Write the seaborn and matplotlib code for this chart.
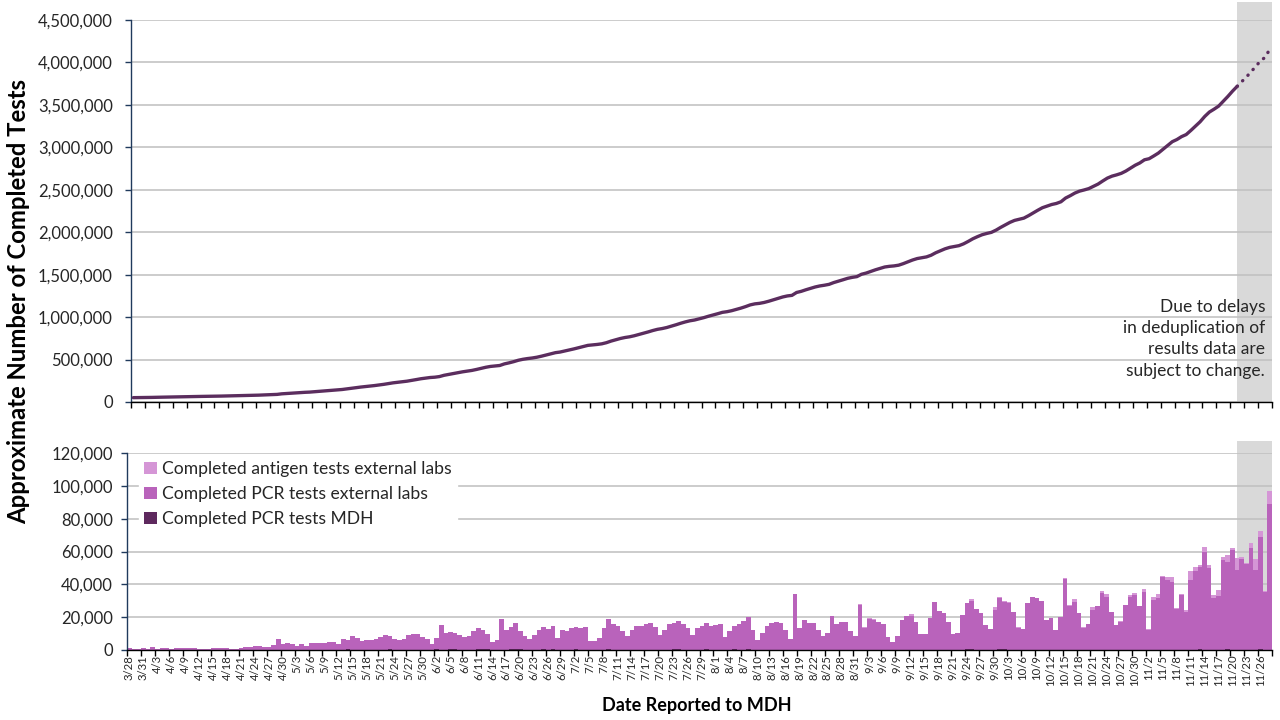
import numpy as np
import pandas as pd
import matplotlib
matplotlib.use("Agg")
import matplotlib.pyplot as plt
import matplotlib.transforms as mtransforms
from matplotlib.patches import Rectangle, Patch
from matplotlib.ticker import FuncFormatter, FixedLocator
import seaborn as sns

# ---------------- data ----------------
start_date = "2020-03-28"
end_date = "2020-11-28"

# daily completed tests (bar total height)
total_tests = [
    1200, 600, 600, 1200, 600, 1800, 600, 1200, 1200, 600,
    1200, 1200, 1200, 1200, 1200, 600, 600, 600, 1200, 1200,
    1200, 1200, 600, 600, 1200, 1800, 1800, 2400, 2400, 1800,
    1800, 3000, 6700, 3700, 4300, 3700, 2400, 3700, 2400, 4300,
    4300, 4300, 4300, 4900, 4900, 3700, 6700, 6100, 8500, 7300,
    5500, 6100, 6100, 6700, 7900, 9100, 8500, 6700, 6100, 6700,
    9100, 9800, 9800, 7900, 6700, 3700, 7300, 15200, 10400, 11000,
    10400, 9100, 7900, 8500, 11600, 13400, 12200, 9800, 4900, 6100,
    18900, 12200, 14000, 16500, 11600, 8500, 6700, 9100, 12200, 14000,
    12800, 14600, 7300, 12200, 11600, 13400, 14000, 13400, 14000, 5500,
    5500, 7300, 13400, 18900, 15900, 14600, 11600, 8500, 12200, 14600,
    14600, 15900, 16500, 14000, 9100, 12200, 15900, 16500, 17700, 15900,
    13400, 9100, 13400, 14600, 16500, 14600, 15200, 15900, 7900, 11600,
    14600, 15900, 17700, 20100, 12200, 6100, 10400, 14600, 16500, 17100,
    16500, 12200, 6700, 34100, 13400, 18300, 16500, 16500, 12200, 8500,
    10400, 20700, 15900, 17100, 17100, 11600, 8500, 28000, 14000, 19500,
    18900, 17100, 15900, 7900, 4900, 8500, 18300, 20700, 22000, 17100,
    9800, 9800, 19500, 29300, 23800, 22500, 17100, 9800, 10400, 21300,
    28700, 31100, 25000, 22600, 15200, 12800, 26200, 32300, 29900, 29300,
    23200, 14000, 12800, 28700, 32300, 31700, 29900, 18300, 19500, 12200,
    20100, 43900, 27600, 31100, 22600, 14000, 15900, 26400, 27000, 36000,
    34100, 23200, 15200, 17700, 27400, 33500, 34700, 26800, 37200, 12800,
    32300, 34100, 45100, 44500, 44500, 25600, 34100, 24400, 48200, 50600,
    51800, 62800, 51800, 33500, 36600, 56700, 58000, 62200, 56100, 56700,
    53000, 65200, 55500, 72600, 36000, 97000,
]

# antigen tests, external labs (light top segment)
antigen_ext = [0] * 157 + [
    400, 600, 600, 600, 0, 0, 0, 0, 0, 0,
    0, 1200, 0, 0, 0, 0, 0, 0, 0, 0,
    0, 0, 0, 0, 1200, 0, 0, 0, 0, 1800,
    600, 600, 600, 0, 600, 0, 0, 0, 0, 0,
    0, 0, 0, 0, 400, 600, 1800, 0, 600, 0,
    2000, 0, 1200, 1800, 0, 0, 600, 0, 1200, 1200,
    0, 1800, 600, 1800, 2400, 500, 1800, 3000, 400, 600,
    1200, 5500, 2400, 1200, 3000, 1800, 1800, 3700, 1800, 4300,
    1200, 7300, 1200, 600, 3000, 6700, 3700, 600, 7900,
]

# PCR tests MDH (dark bottom segment)
mdh_days = [47, 56, 66, 69, 70, 75, 76, 77, 82, 83, 84, 89, 91, 96, 103,
            117, 118, 124, 130, 133, 180, 181, 187, 188, 230, 236, 243]
mdh_value = 700
tests_before_start = 50000

# shading / projection start (category index of 11/21)
shade_start = 238

# ---------------- derived frame ----------------
dates = pd.date_range(start_date, end_date, freq="D")
labels = [f"{d.month}/{d.day}" for d in dates]
n = len(labels)
total = np.array(total_tests, dtype=float)
antigen = np.array(antigen_ext, dtype=float)
mdh = np.zeros(n)
mdh[mdh_days] = mdh_value
pcr_ext = total - antigen - mdh
cumulative = tests_before_start + np.cumsum(total)
pos = np.arange(n)

df = pd.DataFrame({"date": labels, "pos": pos, "total": total,
                   "pcr_mdh": pcr_ext + mdh, "mdh": mdh, "cum": cumulative})

# ---------------- style ----------------
sns.set_theme(style="white")
plt.rcParams["font.family"] = ["Lato", "DejaVu Sans"]

c_line = "#5B2D5E"
c_antigen = "#D596D6"
c_pcr = "#B963BB"
c_mdh = "#5E295E"
c_grid = "#BFBFBF"
c_shade = "#D9D9D9"
c_text = "#262626"
c_yaxis = "#203A5C"

fig = plt.figure(figsize=(12.8, 7.2), dpi=100)
ax1 = fig.add_axes([131 / 1280, 1 - 402 / 720, (1272 - 131) / 1280, (402 - 20) / 720])
ax2 = fig.add_axes([127 / 1280, 1 - 650 / 720, (1272 - 127) / 1280, (650 - 453) / 720])

# ---------------- top: cumulative line ----------------
solid = df[df["pos"] <= shade_start]
proj = df[df["pos"] >= shade_start]
sns.lineplot(data=solid, x="pos", y="cum", ax=ax1, color=c_line, lw=2.4,
             estimator=None, zorder=3, solid_capstyle="round")
sns.lineplot(data=proj, x="pos", y="cum", ax=ax1, color=c_line, lw=2.4,
             estimator=None, zorder=3, linestyle=(0, (0.1, 2.2)),
             dash_capstyle="round")

# ---------------- bottom: stacked bars (layered) ----------------
sns.barplot(data=df, x="date", y="total", ax=ax2, color=c_antigen, width=1.0,
            saturation=1, linewidth=0, order=labels, zorder=2)
sns.barplot(data=df, x="date", y="pcr_mdh", ax=ax2, color=c_pcr, width=1.0,
            saturation=1, linewidth=0, order=labels, zorder=2)
sns.barplot(data=df, x="date", y="mdh", ax=ax2, color=c_mdh, width=1.0,
            saturation=1, linewidth=0, order=labels, zorder=2)

fmt = FuncFormatter(lambda v, p: f"{int(round(v)):,}")

for ax, ymax, ystep, over, ypad in ((ax1, 4.5e6, 5e5, 1.047, 8.5),
                                    (ax2, 120000, 20000, 1.061, 5.5)):
    ax.set_xlim(-0.5, n - 0.5)
    ax.set_ylim(0, ymax)
    ax.set_yticks(np.arange(0, ymax + 1, ystep))
    ax.yaxis.set_major_formatter(fmt)
    ax.set_xlabel("")
    ax.set_ylabel("")
    ax.set_axisbelow(True)
    ax.grid(axis="y", color=c_grid, lw=1.1, zorder=0.5)
    ax.grid(axis="x", visible=False)
    for s in ("top", "right"):
        ax.spines[s].set_visible(False)
    ax.spines["left"].set_color(c_yaxis)
    ax.spines["left"].set_linewidth(1.0)
    ax.spines["bottom"].set_color("#000000")
    ax.spines["bottom"].set_linewidth(1.0)
    ax.tick_params(axis="y", which="both", direction="out", length=4.5, width=1,
                   color=c_yaxis, labelsize=12, labelcolor=c_text, pad=ypad, left=True)
    ax.xaxis.set_minor_locator(FixedLocator(np.arange(-0.5, n, 3)))
    ax.tick_params(axis="x", which="minor", direction="out", length=4.5, width=1,
                   color="#000000", bottom=True)
    trans = mtransforms.blended_transform_factory(ax.transData, ax.transAxes)
    ax.add_patch(Rectangle((shade_start, 0), n - 0.5 - shade_start, over,
                           transform=trans, facecolor=c_shade, edgecolor="none",
                           clip_on=False, zorder=0.2))

ax1.set_xticks([])
ax1.xaxis.set_minor_locator(FixedLocator(np.arange(-0.5, n, 3)))
ax1.tick_params(axis="x", which="minor", direction="out", length=4.5, width=1,
                color="#000000", bottom=True)

ax2.set_xticks(pos[::3])
ax2.set_xticklabels(labels[::3], rotation=90, fontsize=8.2, color=c_text)
ax2.tick_params(axis="x", which="major", length=0, pad=3.5)

# annotation in shaded area
fig.text(1265 / 1280, 1 - 299 / 720,
         "Due to delays\nin deduplication of\nresults data are\nsubject to change.",
         ha="right", va="top", fontsize=12.5, color=c_text, linespacing=1.4)

# legend
handles = [Patch(facecolor=c_antigen, edgecolor="none"),
           Patch(facecolor=c_pcr, edgecolor="none"),
           Patch(facecolor=c_mdh, edgecolor="none")]
names = ["Completed antigen tests external labs",
         "Completed PCR tests external labs",
         "Completed PCR tests MDH"]
leg = ax2.legend(handles, names, loc="upper left", bbox_to_anchor=(0.008, 1.0),
                 fontsize=12.6, frameon=True, fancybox=False, framealpha=1,
                 edgecolor="white", facecolor="white", handlelength=0.72,
                 handleheight=0.72, handletextpad=0.3, labelspacing=0.52,
                 borderpad=0.3, borderaxespad=0.15)
for t in leg.get_texts():
    t.set_color(c_text)
leg.set_zorder(5)

# axis titles
fig.text(19 / 1280, 1 - 302 / 720, "Approximate Number of Completed Tests",
         rotation=90, ha="center", va="center", fontsize=17.2, fontweight="bold",
         color="#000000")
fig.text(697 / 1280, 1 - 705 / 720, "Date Reported to MDH", ha="center",
         va="center", fontsize=13, fontweight="bold", color="#000000")

fig.savefig("out.png", dpi=100)
